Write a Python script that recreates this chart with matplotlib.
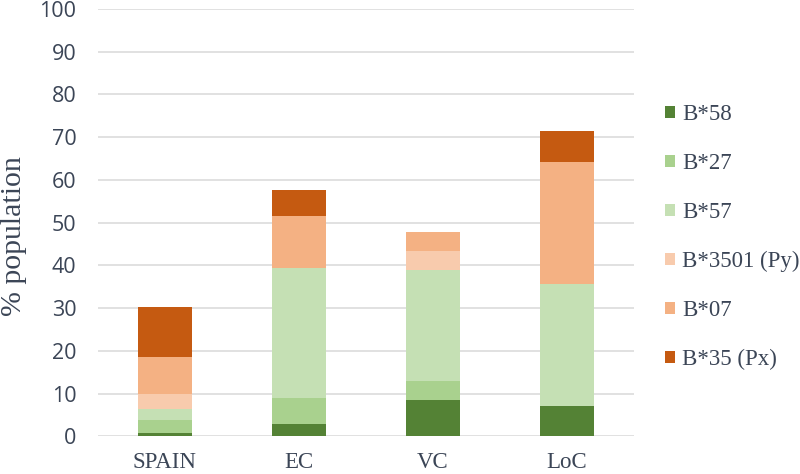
import matplotlib
matplotlib.use('Agg')
import numpy as np
from matplotlib import pyplot as plt

regions = ['SPAIN', 'EC', 'VC', 'LoC']
alleles = ['B*58', 'B*27', 'B*57', 'B*3501 (Py)', 'B*07', 'B*35 (Px)']
b58 = [0.7, 2.9, 8.5, 7.1]
b27 = [3.1, 6.15, 4.45, 0.0]
b57 = [2.5, 30.45, 26.0, 28.6]
b3501 = [3.5, 0.0, 4.45, 0.0]
b07 = [8.8, 12.1, 4.4, 28.6]
b35 = [11.75, 6.0, 0.0, 7.05]
colors = ['#548235', '#A9D18E', '#C5E0B4', '#F8CBAD', '#F4B183', '#C55A11']

series = [b58, b27, b57, b3501, b07, b35]

fig = plt.figure(figsize=(8, 4.74), dpi=100)
ax = fig.add_axes([0.1225, 0.0795, 0.67, 0.9015])

x = np.arange(len(regions))
bottom = np.zeros(len(regions))
for name, vals, col in zip(alleles, series, colors):
    ax.bar(x, vals, 0.4, bottom=bottom, color=col, label=name, zorder=3)
    bottom += np.array(vals)

ax.set_xlim(-0.5, 3.5)
ax.set_ylim(0, 100)
ax.set_yticks(range(0, 101, 10))
ax.grid(axis='y', color='#D9D9D9', linewidth=1.1, zorder=0)
for s in ax.spines.values():
    s.set_visible(False)
ax.tick_params(length=0)
ax.tick_params(axis='y', pad=15.5, labelsize=15.5, labelcolor='#3b4556')
ax.set_xticks(x)
ax.set_xticklabels(regions, family='Liberation Serif', fontsize=16.5, color='#3b4556')
ax.tick_params(axis='x', pad=11)
for lab in ax.get_yticklabels():
    lab.set_family('Open Sans')

fig.text(0.018, 0.502, '% population', rotation=90, va='center', ha='center',
         family='Liberation Serif', fontsize=21.5, color='#3b4556')

leg = fig.legend(loc='center left', bbox_to_anchor=(0.831, 0.50), frameon=False,
                 prop={'family': 'Liberation Serif', 'size': 16.5},
                 handlelength=0.45, handleheight=0.45, handletextpad=0.3,
                 labelspacing=1.22, borderaxespad=0, borderpad=0)
for t in leg.get_texts():
    t.set_color('#3b4556')

fig.savefig('out.png', dpi=100)
